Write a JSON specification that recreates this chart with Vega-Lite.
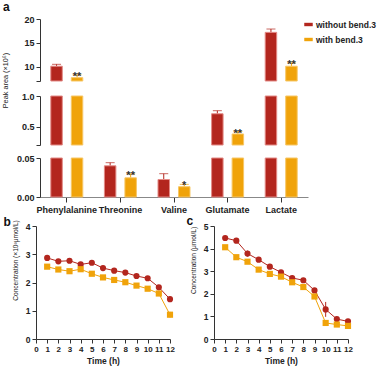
{
  "$schema": "https://vega.github.io/schema/vega-lite/v6.json",
  "autosize": {"type": "none"},
  "width": 342,
  "height": 320,
  "padding": {"left": 36, "top": 19, "right": 0, "bottom": 29},
  "title": {"text": "a", "anchor": "start", "frame": "group", "dx": -33, "offset": 1, "fontSize": 12, "fontWeight": "bold", "color": "#111"},
  "config": {
    "view": {"stroke": null},
    "font": "Liberation Sans",
    "axis": {"grid": false, "labelOverlap": false, "labelFont": "Liberation Sans", "labelFontWeight": "bold", "labelFontSize": 9, "labelColor": "#222", "domainColor": "#333", "tickColor": "#333", "tickSize": 4, "titleFont": "Liberation Sans", "titleFontWeight": "normal", "titleFontSize": 7, "titleColor": "#222"}
  },
  "datasets": {
    "amino": [
      {"aa": "Phenylalanine", "grp": "without bend.3", "v": 10.1, "e": 10.5, "sig": ""},
      {"aa": "Phenylalanine", "grp": "with bend.3", "v": 7.7, "e": 8.3, "sig": "**"},
      {"aa": "Threonine", "grp": "without bend.3", "v": 0.040, "e": 0.044, "sig": ""},
      {"aa": "Threonine", "grp": "with bend.3", "v": 0.0246, "e": 0.0298, "sig": "**"},
      {"aa": "Valine", "grp": "without bend.3", "v": 0.0224, "e": 0.0299, "sig": ""},
      {"aa": "Valine", "grp": "with bend.3", "v": 0.0132, "e": 0.0162, "sig": "*"},
      {"aa": "Glutamate", "grp": "without bend.3", "v": 0.71, "e": 0.76, "sig": ""},
      {"aa": "Glutamate", "grp": "with bend.3", "v": 0.38, "e": 0.42, "sig": "**"},
      {"aa": "Lactate", "grp": "without bend.3", "v": 17.2, "e": 17.9, "sig": ""},
      {"aa": "Lactate", "grp": "with bend.3", "v": 10.1, "e": 10.8, "sig": "**"}
    ],
    "lac": [
      {"t": 1, "grp": "without bend.3", "v": 2.87, "lo": 2.84, "hi": 2.90},
      {"t": 2, "grp": "without bend.3", "v": 2.75, "lo": 2.72, "hi": 2.78},
      {"t": 3, "grp": "without bend.3", "v": 2.77, "lo": 2.74, "hi": 2.80},
      {"t": 4, "grp": "without bend.3", "v": 2.64, "lo": 2.61, "hi": 2.67},
      {"t": 5, "grp": "without bend.3", "v": 2.70, "lo": 2.67, "hi": 2.73},
      {"t": 6, "grp": "without bend.3", "v": 2.51, "lo": 2.48, "hi": 2.54},
      {"t": 7, "grp": "without bend.3", "v": 2.42, "lo": 2.39, "hi": 2.45},
      {"t": 8, "grp": "without bend.3", "v": 2.35, "lo": 2.32, "hi": 2.38},
      {"t": 9, "grp": "without bend.3", "v": 2.23, "lo": 2.20, "hi": 2.26},
      {"t": 10, "grp": "without bend.3", "v": 2.15, "lo": 2.12, "hi": 2.18},
      {"t": 11, "grp": "without bend.3", "v": 1.83, "lo": 1.78, "hi": 1.88},
      {"t": 12, "grp": "without bend.3", "v": 1.41, "lo": 1.38, "hi": 1.44},
      {"t": 1, "grp": "with bend.3", "v": 2.56, "lo": 2.53, "hi": 2.59},
      {"t": 2, "grp": "with bend.3", "v": 2.46, "lo": 2.43, "hi": 2.49},
      {"t": 3, "grp": "with bend.3", "v": 2.40, "lo": 2.37, "hi": 2.43},
      {"t": 4, "grp": "with bend.3", "v": 2.47, "lo": 2.44, "hi": 2.50},
      {"t": 5, "grp": "with bend.3", "v": 2.31, "lo": 2.28, "hi": 2.34},
      {"t": 6, "grp": "with bend.3", "v": 2.18, "lo": 2.15, "hi": 2.21},
      {"t": 7, "grp": "with bend.3", "v": 2.09, "lo": 2.06, "hi": 2.12},
      {"t": 8, "grp": "with bend.3", "v": 2.01, "lo": 1.98, "hi": 2.04},
      {"t": 9, "grp": "with bend.3", "v": 1.89, "lo": 1.86, "hi": 1.92},
      {"t": 10, "grp": "with bend.3", "v": 1.78, "lo": 1.75, "hi": 1.81},
      {"t": 11, "grp": "with bend.3", "v": 1.61, "lo": 1.54, "hi": 1.68},
      {"t": 12, "grp": "with bend.3", "v": 0.86, "lo": 0.76, "hi": 0.96}
    ],
    "glu": [
      {"t": 1, "grp": "without bend.3", "v": 4.47, "lo": 4.44, "hi": 4.50},
      {"t": 2, "grp": "without bend.3", "v": 4.35, "lo": 4.32, "hi": 4.38},
      {"t": 3, "grp": "without bend.3", "v": 3.78, "lo": 3.65, "hi": 3.91},
      {"t": 4, "grp": "without bend.3", "v": 3.51, "lo": 3.48, "hi": 3.54},
      {"t": 5, "grp": "without bend.3", "v": 3.20, "lo": 3.17, "hi": 3.23},
      {"t": 6, "grp": "without bend.3", "v": 2.95, "lo": 2.92, "hi": 2.98},
      {"t": 7, "grp": "without bend.3", "v": 2.70, "lo": 2.67, "hi": 2.73},
      {"t": 8, "grp": "without bend.3", "v": 2.60, "lo": 2.57, "hi": 2.63},
      {"t": 9, "grp": "without bend.3", "v": 2.15, "lo": 2.10, "hi": 2.20},
      {"t": 10, "grp": "without bend.3", "v": 1.31, "lo": 0.98, "hi": 1.64},
      {"t": 11, "grp": "without bend.3", "v": 0.88, "lo": 0.80, "hi": 0.96},
      {"t": 12, "grp": "without bend.3", "v": 0.78, "lo": 0.75, "hi": 0.81},
      {"t": 1, "grp": "with bend.3", "v": 4.06, "lo": 4.03, "hi": 4.09},
      {"t": 2, "grp": "with bend.3", "v": 3.62, "lo": 3.59, "hi": 3.65},
      {"t": 3, "grp": "with bend.3", "v": 3.42, "lo": 3.39, "hi": 3.45},
      {"t": 4, "grp": "with bend.3", "v": 3.07, "lo": 3.04, "hi": 3.10},
      {"t": 5, "grp": "with bend.3", "v": 2.88, "lo": 2.85, "hi": 2.91},
      {"t": 6, "grp": "with bend.3", "v": 2.76, "lo": 2.73, "hi": 2.79},
      {"t": 7, "grp": "with bend.3", "v": 2.51, "lo": 2.48, "hi": 2.54},
      {"t": 8, "grp": "with bend.3", "v": 2.30, "lo": 2.27, "hi": 2.33},
      {"t": 9, "grp": "with bend.3", "v": 1.88, "lo": 1.78, "hi": 1.98},
      {"t": 10, "grp": "with bend.3", "v": 0.71, "lo": 0.66, "hi": 0.76},
      {"t": 11, "grp": "with bend.3", "v": 0.64, "lo": 0.61, "hi": 0.67},
      {"t": 12, "grp": "with bend.3", "v": 0.58, "lo": 0.55, "hi": 0.61}
    ]
  },
  "resolve": {"scale": {"x": "independent", "y": "independent", "xOffset": "independent"}, "axis": {"x": "independent", "y": "independent"}},
  "layer": [
    {
      "data": {"name": "amino"},
      "encoding": {
        "x": {"field": "aa", "type": "nominal", "scale": {"domain": ["Phenylalanine", "Threonine", "Valine", "Glutamate", "Lactate"], "range": [4, 272], "paddingInner": 0, "paddingOuter": 0}, "axis": null},
        "xOffset": {"field": "grp", "type": "nominal", "scale": {"domain": ["without bend.3", "with bend.3"], "paddingInner": 0.44, "paddingOuter": 0.527}},
        "y": {"field": "v", "type": "quantitative", "scale": {"domain": [7, 20], "range": [62, 0], "nice": false, "zero": false, "clamp": true},
          "axis": {"orient": "left", "offset": -4, "values": [7, 10, 15, 20], "tickCount": 20, "format": "d", "labelExpr": "datum.value == 7 ? '' : datum.label", "title": "Peak area (×10⁶)", "titleFontSize": 7.3, "titleX": -31, "titleY": 61}},
        "color": {"field": "grp", "type": "nominal", "scale": {"domain": ["without bend.3", "with bend.3"], "range": ["#B3261E", "#F0A30A"]},
          "legend": {"orient": "none", "legendX": 268, "legendY": 1, "padding": 0, "title": null, "symbolType": "M-1,-0.4L1,-0.4L1,0.4L-1,0.4Z", "symbolSize": 72, "symbolStrokeWidth": 0, "labelFontSize": 8.5, "labelFontWeight": "bold", "labelColor": "#222", "rowPadding": 6, "labelOffset": 3,
            "encode": {"symbols": {"update": {"shape": {"value": "M-1,-0.4L1,-0.4L1,0.4L-1,0.4Z"}, "strokeWidth": {"value": 0}}}}}}
      },
      "layer": [
        {"transform": [{"filter": "datum.e > 7"}], "mark": {"type": "rule", "strokeWidth": 1}, "encoding": {"y2": {"field": "e"}}},
        {"transform": [{"filter": "datum.e > 7"}], "mark": {"type": "tick", "thickness": 1, "size": 9}, "encoding": {"y": {"field": "e", "type": "quantitative"}}},
        {"transform": [{"filter": "datum.v > 7"}], "mark": {"type": "bar", "strokeWidth": 1},
         "encoding": {"y2": {"datum": 7}, "stroke": {"field": "grp", "type": "nominal", "scale": {"domain": ["without bend.3", "with bend.3"], "range": ["#E38A86", "#F7C766"]}, "legend": null}}},
        {"transform": [{"filter": "datum.e > 7"}], "mark": {"type": "text", "baseline": "alphabetic", "dy": 5, "fontSize": 11, "fontWeight": "bold"},
         "encoding": {"y": {"field": "e", "type": "quantitative"}, "text": {"field": "sig"}, "color": {"value": "#333"}}}
      ]
    },
    {
      "data": {"name": "amino"},
      "encoding": {
        "x": {"field": "aa", "type": "nominal", "scale": {"domain": ["Phenylalanine", "Threonine", "Valine", "Glutamate", "Lactate"], "range": [4, 272], "paddingInner": 0, "paddingOuter": 0}, "axis": null},
        "xOffset": {"field": "grp", "type": "nominal", "scale": {"domain": ["without bend.3", "with bend.3"], "paddingInner": 0.44, "paddingOuter": 0.527}},
        "y": {"field": "v", "type": "quantitative", "scale": {"domain": [0.2, 1.0], "range": [126, 77], "nice": false, "zero": false, "clamp": true},
          "axis": {"orient": "left", "offset": -4, "values": [0.2, 0.5, 1.0], "tickCount": 20, "format": ".1f", "labelExpr": "datum.value < 0.3 ? '' : datum.label",
            "title": "b", "titleAngle": 0, "titleAlign": "left", "titleBaseline": "alphabetic", "titleFontSize": 12, "titleFontWeight": "bold", "titleColor": "#111", "titleX": -37, "titleY": 206}},
        "color": {"field": "grp", "type": "nominal"}
      },
      "layer": [
        {"transform": [{"filter": "datum.e > 0.2 && datum.e < 1"}], "mark": {"type": "rule", "strokeWidth": 1}, "encoding": {"y2": {"field": "e"}}},
        {"transform": [{"filter": "datum.e > 0.2 && datum.e < 1"}], "mark": {"type": "tick", "thickness": 1, "size": 9}, "encoding": {"y": {"field": "e", "type": "quantitative"}}},
        {"transform": [{"filter": "datum.v > 0.2"}], "mark": {"type": "bar", "strokeWidth": 1},
         "encoding": {"y2": {"datum": 0.2}, "stroke": {"field": "grp", "type": "nominal", "legend": null}}},
        {"transform": [{"filter": "datum.e > 0.2 && datum.e < 1"}], "mark": {"type": "text", "baseline": "alphabetic", "dy": 5, "fontSize": 11, "fontWeight": "bold"},
         "encoding": {"y": {"field": "e", "type": "quantitative"}, "text": {"field": "sig"}, "color": {"value": "#333"}}}
      ]
    },
    {
      "data": {"name": "amino"},
      "encoding": {
        "x": {"field": "aa", "type": "nominal", "scale": {"domain": ["Phenylalanine", "Threonine", "Valine", "Glutamate", "Lactate"], "range": [4, 272], "paddingInner": 0, "paddingOuter": 0},
          "axis": {"orient": "bottom", "offset": -142, "title": null, "labelAngle": 0, "domainColor": "#888", "tickSize": 5, "labelPadding": 3, "labelFontSize": 9}},
        "xOffset": {"field": "grp", "type": "nominal", "scale": {"domain": ["without bend.3", "with bend.3"], "paddingInner": 0.44, "paddingOuter": 0.527}},
        "y": {"field": "v", "type": "quantitative", "scale": {"domain": [0, 0.05], "range": [178, 139], "nice": false, "clamp": true},
          "axis": {"orient": "left", "offset": -4, "values": [0, 0.05], "tickCount": 20, "format": ".2f",
            "title": "c", "titleAngle": 0, "titleAlign": "left", "titleBaseline": "alphabetic", "titleFontSize": 12, "titleFontWeight": "bold", "titleColor": "#111", "titleX": 146, "titleY": 205}},
        "color": {"field": "grp", "type": "nominal"}
      },
      "layer": [
        {"transform": [{"filter": "datum.e < 0.05"}], "mark": {"type": "rule", "strokeWidth": 1}, "encoding": {"y2": {"field": "e"}}},
        {"transform": [{"filter": "datum.e < 0.05"}], "mark": {"type": "tick", "thickness": 1, "size": 9}, "encoding": {"y": {"field": "e", "type": "quantitative"}}},
        {"mark": {"type": "bar", "strokeWidth": 1},
         "encoding": {"y2": {"datum": 0}, "stroke": {"field": "grp", "type": "nominal", "legend": null}}},
        {"transform": [{"filter": "datum.e < 0.05"}], "mark": {"type": "text", "baseline": "alphabetic", "dy": 5, "fontSize": 11, "fontWeight": "bold"},
         "encoding": {"y": {"field": "e", "type": "quantitative"}, "text": {"field": "sig"}, "color": {"value": "#333"}}}
      ]
    },
    {
      "data": {"name": "lac"},
      "encoding": {
        "x": {"field": "t", "type": "quantitative", "scale": {"domain": [0, 12], "range": [0, 134], "nice": false, "zero": false},
          "axis": {"orient": "bottom", "values": [0,1,2,3,4,5,6,7,8,9,10,11,12], "tickCount": 20, "format": "d", "labelFlush": false, "labelFontSize": 8, "title": "Time (h)", "titleFontWeight": "bold", "titleFontSize": 8.5, "titlePadding": 3}},
        "y": {"field": "v", "type": "quantitative", "scale": {"domain": [0, 4], "range": [320, 207], "nice": false},
          "axis": {"orient": "left", "values": [0,1,2,3,4], "tickCount": 20, "format": "d", "labelFontSize": 8.5, "title": "Concentration (×10³μmol/L)", "titleFontSize": 6.6, "titleX": -18, "titleY": 241}},
        "color": {"field": "grp", "type": "nominal"}
      },
      "layer": [
        {"mark": {"type": "rule", "strokeWidth": 1}, "encoding": {"y": {"field": "lo", "type": "quantitative"}, "y2": {"field": "hi"}}},
        {"mark": {"type": "line", "strokeWidth": 1}, "encoding": {}},
        {"transform": [{"filter": "datum.grp == 'without bend.3'"}], "mark": {"type": "point", "shape": "circle", "filled": true, "opacity": 1, "size": 38}, "encoding": {}},
        {"transform": [{"filter": "datum.grp == 'with bend.3'"}], "mark": {"type": "point", "shape": "square", "filled": true, "opacity": 1, "size": 38}, "encoding": {}},
        {"data": {"values": [{}]}, "mark": {"type": "text", "fontSize": 8.5, "fontWeight": "bold"},
         "encoding": {"x": {"datum": 6.45}, "y": {"datum": 3.39}, "text": {"value": "Lactate"}, "color": {"value": "#222"}}}
      ]
    },
    {
      "data": {"name": "glu"},
      "encoding": {
        "x": {"field": "t", "type": "quantitative", "scale": {"domain": [0, 12], "range": [178, 312], "nice": false, "zero": false},
          "axis": {"orient": "bottom", "values": [0,1,2,3,4,5,6,7,8,9,10,11,12], "tickCount": 20, "format": "d", "labelFlush": false, "labelFontSize": 8, "title": "Time (h)", "titleFontWeight": "bold", "titleFontSize": 8.5, "titlePadding": 3}},
        "y": {"field": "v", "type": "quantitative", "scale": {"domain": [0, 5], "range": [320, 207], "nice": false},
          "axis": {"orient": "left", "offset": -178, "values": [0,1,2,3,4,5], "tickCount": 20, "format": "d", "labelFontSize": 8.5, "title": "Concentration (μmol/L)", "titleFontSize": 6.6, "titleX": -18, "titleY": 241}},
        "color": {"field": "grp", "type": "nominal"}
      },
      "layer": [
        {"mark": {"type": "rule", "strokeWidth": 1}, "encoding": {"y": {"field": "lo", "type": "quantitative"}, "y2": {"field": "hi"}}},
        {"mark": {"type": "line", "strokeWidth": 1}, "encoding": {}},
        {"transform": [{"filter": "datum.grp == 'without bend.3'"}], "mark": {"type": "point", "shape": "circle", "filled": true, "opacity": 1, "size": 38}, "encoding": {}},
        {"transform": [{"filter": "datum.grp == 'with bend.3'"}], "mark": {"type": "point", "shape": "square", "filled": true, "opacity": 1, "size": 38}, "encoding": {}},
        {"data": {"values": [{}]}, "mark": {"type": "text", "fontSize": 8.5, "fontWeight": "bold"},
         "encoding": {"x": {"datum": 7.52}, "y": {"datum": 4.12}, "text": {"value": "Glutamate"}, "color": {"value": "#222"}}}
      ]
    }
  ]
}
